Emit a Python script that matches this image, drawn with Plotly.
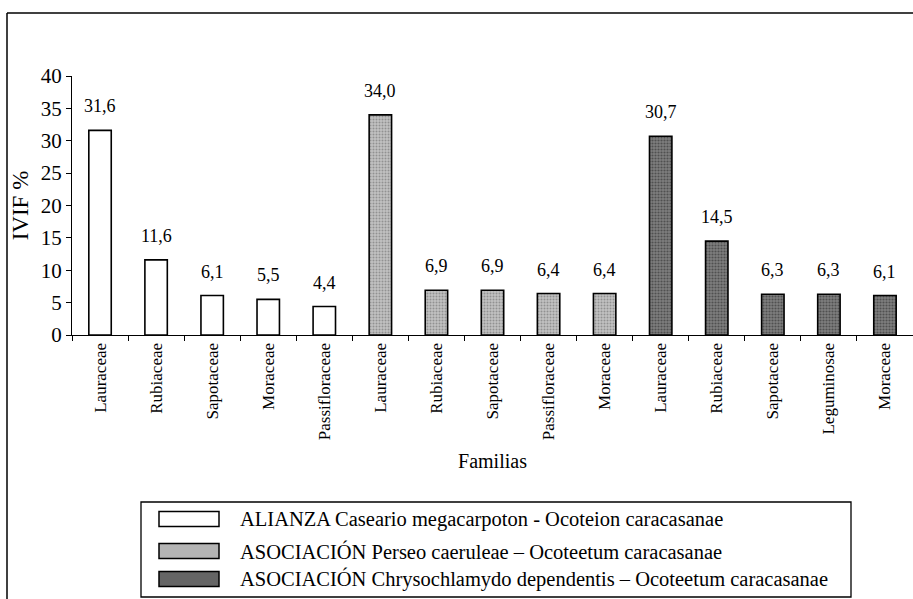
import plotly.graph_objects as go

families = ["Lauraceae", "Rubiaceae", "Sapotaceae", "Moraceae", "Passifloraceae",
            "Lauraceae", "Rubiaceae", "Sapotaceae", "Passifloraceae", "Moraceae",
            "Lauraceae", "Rubiaceae", "Sapotaceae", "Leguminosae", "Moraceae"]

alianza_vals = [31.6, 11.6, 6.1, 5.5, 4.4]
perseo_vals = [34.0, 6.9, 6.9, 6.4, 6.4]
chryso_vals = [30.7, 14.5, 6.3, 6.3, 6.1]

series_names = ["ALIANZA Caseario megacarpoton - Ocoteion caracasanae",
                "ASOCIACIÓN Perseo caeruleae – Ocoteetum caracasanae",
                "ASOCIACIÓN Chrysochlamydo dependentis – Ocoteetum caracasanae"]

y_ticks = [0, 5, 10, 15, 20, 25, 30, 35, 40]

FONT = "Liberation Serif, Times New Roman, serif"

# plot-area geometry helpers (pixels -> paper)
L, T, W, H = 72, 76, 841, 259
def px(x):
    return (x - L) / W
def py(y):
    return (T + H - y) / H

fig = go.Figure()

groups = [alianza_vals, perseo_vals, chryso_vals]
fills = ["white", "#b4b4b4", "#656565"]
patterns = [
    None,
    dict(shape=".", fgcolor="#606060", bgcolor="#c2c2c2", size=3, solidity=0.35),
    dict(shape=".", fgcolor="#222222", bgcolor="#7e7e7e", size=3, solidity=0.4),
]

idx = 0
for name, vals, fc, pat in zip(series_names, groups, fills, patterns):
    xs = list(range(idx, idx + len(vals)))
    idx += len(vals)
    marker = dict(color=fc, line=dict(color="black", width=1.6))
    if pat:
        marker["pattern"] = pat
    fig.add_trace(go.Bar(x=xs, y=vals, name=name, width=0.4, marker=marker,
                         hoverinfo="skip", showlegend=False))
    for x, v in zip(xs, vals):
        fig.add_annotation(x=x, y=v, text=f"{v:.1f}".replace(".", ","),
                           showarrow=False, yanchor="bottom", yshift=12,
                           font=dict(family=FONT, size=18, color="black"))

fig.update_layout(
    width=913, height=599,
    margin=dict(l=L, r=0, t=T, b=599 - T - H),
    paper_bgcolor="white", plot_bgcolor="white",
    font=dict(family=FONT, color="black"),
    showlegend=False,
    bargap=0.6,
)

fig.update_xaxes(
    range=[-0.5, len(families) - 0.5],
    tickvals=list(range(len(families))), ticktext=families,
    tickangle=-90, ticks="", tickfont=dict(family=FONT, size=17),
    showline=True, linecolor="black", linewidth=1.3, showgrid=False, zeroline=False,
    minor=dict(tickvals=[i + 0.5 for i in range(-1, len(families))], ticks="outside",
               ticklen=5, tickcolor="black", tickwidth=1, showgrid=False),
    title=dict(text="Familias", font=dict(family=FONT, size=20), standoff=14),
)

fig.update_yaxes(
    range=[0, 40], tickvals=y_ticks, ticks="outside", ticklen=5, tickcolor="black",
    tickfont=dict(family=FONT, size=21),
    showline=True, linecolor="black", linewidth=1.3, showgrid=False, zeroline=False,
    title=dict(text="IVIF %", font=dict(family=FONT, size=23), standoff=5),
)

# outer frame (top and left edges)
fig.add_shape(type="line", xref="paper", yref="paper",
              x0=px(7), x1=px(913), y0=py(13), y1=py(13),
              line=dict(color="black", width=1.5))
fig.add_shape(type="line", xref="paper", yref="paper",
              x0=px(7), x1=px(7), y0=py(13), y1=py(599),
              line=dict(color="black", width=1.5))

# legend box
fig.add_shape(type="rect", xref="paper", yref="paper",
              x0=px(141), x1=px(851), y0=py(502), y1=py(597),
              line=dict(color="black", width=1.3), fillcolor="white", layer="below")
row_centers = [519, 551, 579]
for name, fc, yc in zip(series_names, fills, row_centers):
    fig.add_shape(type="rect", xref="paper", yref="paper",
                  x0=px(159), x1=px(219), y0=py(yc - 7.5), y1=py(yc + 7.5),
                  line=dict(color="black", width=1.5), fillcolor=fc)
    fig.add_annotation(xref="paper", yref="paper", x=px(238), y=py(yc),
                       xanchor="left", yanchor="middle", showarrow=False,
                       text=name, font=dict(family=FONT, size=20.5, color="black"))

fig.write_html("out.html")
